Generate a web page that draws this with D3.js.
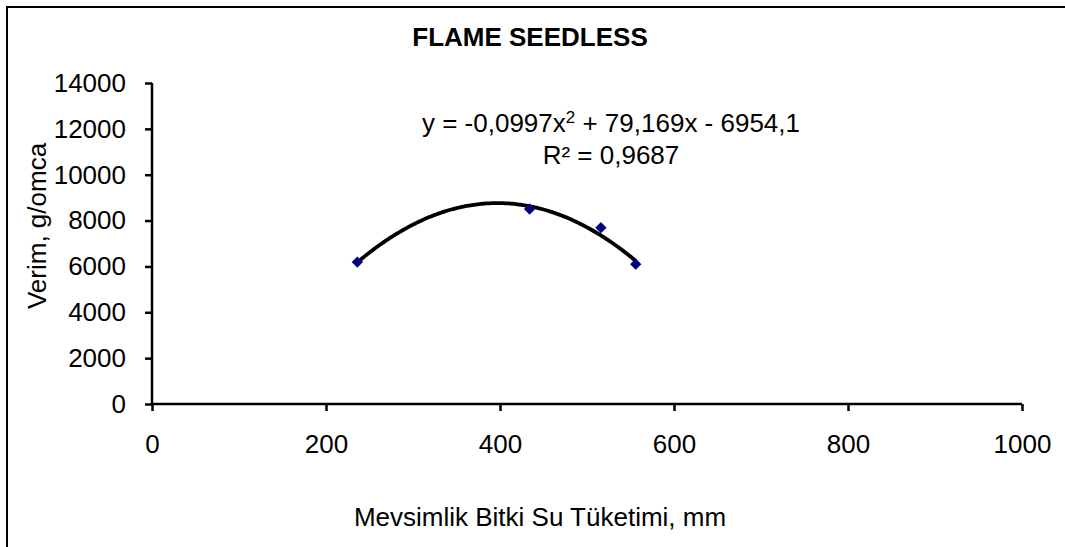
<!DOCTYPE html>
<html>
<head>
<meta charset="utf-8">
<script src="https://cdn.jsdelivr.net/npm/d3@7"></script>
<style>
  body { margin: 0; background: #fff; }
  svg text { font-family: "Liberation Sans", Arial, sans-serif; fill: #000; }
</style>
</head>
<body>
<svg></svg>
<script>
// data
var waterUse = [236, 434, 516, 556];       // Mevsimlik Bitki Su Tüketimi, mm
var yieldVals = [6190, 8500, 7690, 6100];  // Verim, g/omca
var xTicks = [0, 200, 400, 600, 800, 1000];
var yTicks = [0, 2000, 4000, 6000, 8000, 10000, 12000, 14000];
var fitCoef = [-0.0997, 79.169, -6954.1];  // polynomial trendline (a, b, c)
var eqLine1 = "y = -0,0997x";
var eqLine2 = "R² = 0,9687";

var width = 1065, height = 547;
var svg = d3.select('svg').attr('width', width).attr('height', height);

// chart frame (runs off the bottom/right of the picture)
svg.append('rect')
  .attr('x', 7).attr('y', 7)
  .attr('width', width + 20).attr('height', height + 20)
  .attr('fill', 'none').attr('stroke', '#000').attr('stroke-width', 2);

var x = d3.scaleLinear().domain([0, 1000]).range([152, 1022]);
var y = d3.scaleLinear().domain([0, 14000]).range([404, 83]);

// y axis
var yAxis = svg.append('g').attr('transform', 'translate(152,0)')
  .call(d3.axisLeft(y).tickValues(yTicks).tickSize(7).tickPadding(19).tickFormat(d3.format('d')));
// x axis
var xAxis = svg.append('g').attr('transform', 'translate(0,404)')
  .call(d3.axisBottom(x).tickValues(xTicks).tickSize(7).tickPadding(24).tickFormat(d3.format('d')));

[yAxis, xAxis].forEach(function (g) {
  g.select('.domain').attr('stroke', '#000').attr('stroke-width', 2.5);
  g.selectAll('.tick line').attr('stroke', '#000').attr('stroke-width', 2.5);
  g.selectAll('.tick text')
    .attr('fill', '#000')
    .style('font-family', '"Liberation Sans", Arial, sans-serif')
    .style('font-size', '26px');
});
// plain axis lines, no end caps
yAxis.select('.domain').attr('d', 'M0,' + y(14000) + 'V' + y(0));
xAxis.select('.domain').attr('d', 'M' + x(0) + ',0H' + x(1000));

// trendline from the fit coefficients
var fit = function (v) { return fitCoef[0] * v * v + fitCoef[1] * v + fitCoef[2]; };
var xs = d3.range(d3.min(waterUse), d3.max(waterUse) + 0.5, 2);
svg.append('path')
  .datum(xs)
  .attr('fill', 'none')
  .attr('stroke', '#000')
  .attr('stroke-width', 3.8)
  .attr('d', d3.line().x(function (d) { return x(d); }).y(function (d) { return y(fit(d)); }));

// markers
svg.selectAll('path.pt')
  .data(waterUse)
  .enter().append('path')
  .attr('class', 'pt')
  .attr('d', d3.symbol().type(d3.symbolSquare).size(64))
  .attr('fill', '#000080')
  .attr('transform', function (d, i) {
    return 'translate(' + x(d) + ',' + y(yieldVals[i]) + ') rotate(45)';
  });

// title
svg.append('text')
  .attr('x', 530).attr('y', 46)
  .attr('text-anchor', 'middle')
  .style('font-size', '26px').style('font-weight', 'bold')
  .text('FLAME SEEDLESS');

// axis titles
svg.append('text')
  .attr('x', 540).attr('y', 526)
  .attr('text-anchor', 'middle')
  .style('font-size', '26px')
  .text('Mevsimlik Bitki Su Tüketimi, mm');

svg.append('text')
  .attr('transform', 'translate(46,226) rotate(-90)')
  .attr('text-anchor', 'middle')
  .style('font-size', '26px')
  .text('Verim, g/omca');

// trendline label
var eq = svg.append('text')
  .attr('x', 611).attr('y', 132)
  .attr('text-anchor', 'middle')
  .style('font-size', '26px');
eq.append('tspan').text(eqLine1);
eq.append('tspan').attr('dy', -9).style('font-size', '17px').text('2');
eq.append('tspan').attr('dy', 9).text(' + 79,169x - 6954,1');

svg.append('text')
  .attr('x', 611).attr('y', 164)
  .attr('text-anchor', 'middle')
  .style('font-size', '26px')
  .text(eqLine2);
</script>
</body>
</html>
